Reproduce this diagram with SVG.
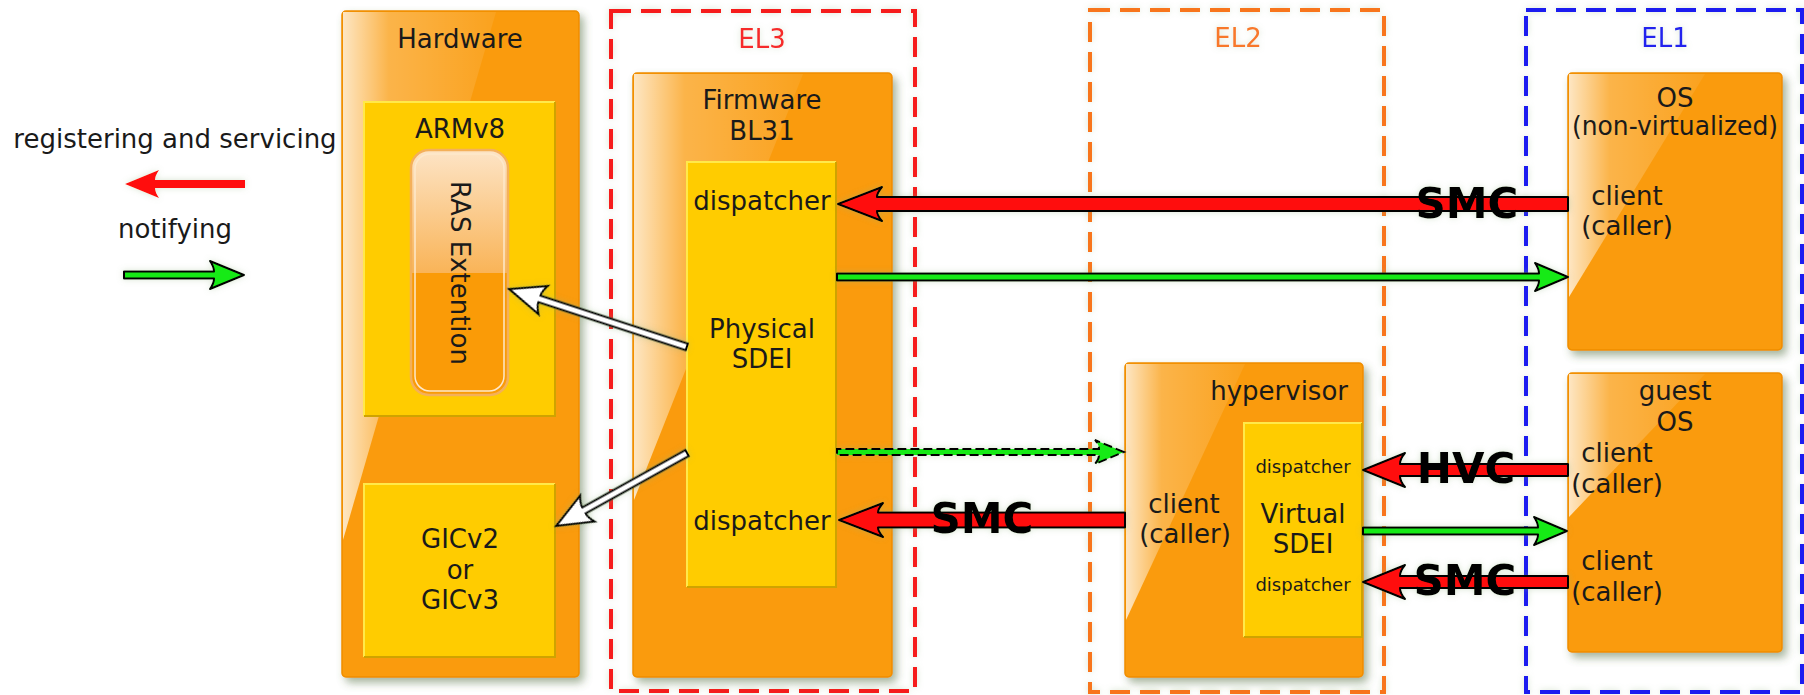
<svg xmlns="http://www.w3.org/2000/svg" width="1804" height="695" viewBox="0 0 1804 695">
<defs>
<style>
text { font-family: "DejaVu Sans", "Liberation Sans", sans-serif; font-size: 26px; fill: #1a1a1a; text-anchor: middle; }
.big { font-weight: bold; font-size: 42px; fill: #000; }
.small { font-size: 18px; }
.box { fill: #fa9b07; stroke: #ef8d00; stroke-width: 1.5; }
.ybox { fill: #ffcc00; }
.ylt { fill: none; stroke: #ffe94a; stroke-width: 2; }
.ydk { fill: none; stroke: #cfa300; stroke-width: 2; }
.glass { fill: url(#glass); }
.el { fill: none; stroke-width: 4; stroke-dasharray: 20 10; }
.red { fill: #ff0d0d; stroke: #000; stroke-width: 2; stroke-linejoin: round; }
.green { fill: #17ea17; stroke: #000; stroke-width: 2; stroke-linejoin: round; }
.hollow { fill: #fff; stroke: #000; stroke-width: 2; stroke-linejoin: miter; }
</style>
<linearGradient id="glass" x1="0" y1="0" x2="1" y2="0">
<stop offset="0" stop-color="#fff" stop-opacity="0.75"/>
<stop offset="0.3" stop-color="#fff" stop-opacity="0.25"/>
<stop offset="1" stop-color="#fff" stop-opacity="0.07"/>
</linearGradient>
<linearGradient id="ras" x1="0" y1="0" x2="0" y2="1">
<stop offset="0" stop-color="#fde4c6"/>
<stop offset="0.5" stop-color="#f9b458"/>
<stop offset="0.5" stop-color="#fa9b07"/>
<stop offset="1" stop-color="#fa9b07"/>
</linearGradient>
<filter id="sh" filterUnits="userSpaceOnUse" x="0" y="0" width="1804" height="695">
<feGaussianBlur in="SourceAlpha" stdDeviation="4"/>
<feOffset dx="4" dy="5" result="b"/>
<feFlood flood-color="#4d6b3a" flood-opacity="0.5"/>
<feComposite in2="b" operator="in"/>
<feMerge><feMergeNode/><feMergeNode in="SourceGraphic"/></feMerge>
</filter>
<filter id="gl" filterUnits="userSpaceOnUse" x="0" y="0" width="1804" height="695">
<feGaussianBlur in="SourceAlpha" stdDeviation="3" result="b"/>
<feFlood flood-color="#8fb27c" flood-opacity="0.35"/>
<feComposite in2="b" operator="in"/>
<feMerge><feMergeNode/><feMergeNode in="SourceGraphic"/></feMerge>
</filter>
</defs>

<rect width="1804" height="695" fill="#fff"/>

<g id="legend">
<text x="175" y="148">registering and servicing</text>
<path d="M125,184 L159,170 Q155,176 155,180 L245,180 L245,188 L155,188 Q155,192 159,198 Z" fill="#ff0d0d" filter="url(#gl)"/>
<text x="175" y="238">notifying</text>
<path class="green" d="M244,275 L210,261 Q214,267 214,271.5 L124,271.5 L124,278.5 L214,278.5 Q214,283 210,289 Z" filter="url(#gl)"/>
</g>

<g id="el3" filter="url(#gl)">
<rect class="el" x="611" y="11" width="304" height="680" stroke="#f61e1e"/>
<text x="762" y="48" style="fill:#f62a2a">EL3</text>
</g>
<g id="el2" filter="url(#gl)">
<rect class="el" x="1090" y="10" width="294" height="682" stroke="#f8741e"/>
<text x="1238" y="47" style="fill:#f8782a">EL2</text>
</g>
<g id="el1" filter="url(#gl)">
<rect class="el" x="1526" y="10" width="276" height="682" stroke="#1a1af0"/>
<text x="1665" y="47" style="fill:#2424ee">EL1</text>
</g>

<g id="hardware">
<rect class="box" x="342" y="11" width="237" height="666" rx="4" filter="url(#sh)"/>
<polygon class="glass" points="343,12 496,12 343,540"/>
<text x="460" y="48">Hardware</text>
</g>
<g id="armv8">
<rect class="ybox" x="364" y="102" width="191" height="314"/>
<path class="ylt" d="M364,416 L364,102 L555,102"/>
<path class="ydk" d="M555,102 L555,416 L364,416"/>
<text x="460" y="138">ARMv8</text>
</g>
<g id="ras">
<rect x="411" y="150" width="97" height="245" rx="18" fill="url(#ras)" stroke="#f4b05a" stroke-width="2.5"/>
<rect x="415" y="154" width="89" height="237" rx="15" fill="none" stroke="#fde9cc" stroke-width="1.5"/>
<text transform="translate(460,273) rotate(90)" y="9">RAS Extention</text>
</g>
<g id="gic">
<rect class="ybox" x="364" y="484" width="191" height="173"/>
<path class="ylt" d="M364,657 L364,484 L555,484"/>
<path class="ydk" d="M555,484 L555,657 L364,657"/>
<text x="460" y="548">GICv2</text>
<text x="460" y="579">or</text>
<text x="460" y="609">GICv3</text>
</g>

<g id="firmware">
<rect class="box" x="633" y="73" width="259" height="604" rx="4" filter="url(#sh)"/>
<polygon class="glass" points="634,74 803,74 634,500"/>
<text x="762" y="109">Firmware</text>
<text x="762" y="140">BL31</text>
</g>
<g id="physical-sdei">
<rect class="ybox" x="687" y="162" width="149" height="425"/>
<path class="ylt" d="M687,587 L687,162 L836,162"/>
<path class="ydk" d="M836,162 L836,587 L687,587"/>
<text x="762" y="210">dispatcher</text>
<text x="762" y="338">Physical</text>
<text x="762" y="368">SDEI</text>
<text x="762" y="530">dispatcher</text>
</g>

<g id="hypervisor">
<rect class="box" x="1125" y="363" width="238" height="314" rx="4" filter="url(#sh)"/>
<polygon class="glass" points="1126,364 1245,364 1126,620"/>
<text x="1348" y="400" style="text-anchor:end">hypervisor</text>
<text x="1184" y="513">client</text>
<text x="1185" y="543">(caller)</text>
</g>
<g id="virtual-sdei">
<rect class="ybox" x="1244" y="423" width="118" height="214"/>
<path class="ylt" d="M1244,637 L1244,423 L1362,423"/>
<path class="ydk" d="M1362,423 L1362,637 L1244,637"/>
<text class="small" x="1303" y="473">dispatcher</text>
<text x="1303" y="523">Virtual</text>
<text x="1303" y="553">SDEI</text>
<text class="small" x="1303" y="591">dispatcher</text>
</g>

<g id="os">
<rect class="box" x="1568" y="73" width="214" height="277" rx="4" filter="url(#sh)"/>
<polygon class="glass" points="1569,74 1705,74 1569,297"/>
<text x="1675" y="107">OS</text>
<text x="1675" y="135" textLength="206" lengthAdjust="spacingAndGlyphs">(non-virtualized)</text>
<text x="1627" y="205">client</text>
<text x="1627" y="235">(caller)</text>
</g>
<g id="guest-os">
<rect class="box" x="1568" y="373" width="214" height="279" rx="4" filter="url(#sh)"/>
<polygon class="glass" points="1569,374 1705,374 1569,517"/>
<text x="1675" y="400">guest</text>
<text x="1675" y="431">OS</text>
<text x="1617" y="462">client</text>
<text x="1617" y="493">(caller)</text>
<text x="1617" y="570">client</text>
<text x="1617" y="601">(caller)</text>
</g>

<g id="connectors" filter="url(#gl)">
<path class="red" d="M838,204 L882,187 Q877,193 877,197 L1568,197 L1568,211 L877,211 Q877,215 882,221 Z"/>
<path class="green" d="M1568,277 L1535,263 Q1539,269 1539,273.5 L837,273.5 L837,280.5 L1539,280.5 Q1539,285 1535,291 Z"/>
<path class="hollow" transform="translate(509,289) rotate(198.05)" d="M0,0 L-36,-15 Q-32,-8 -32,-3.5 L-187,-3.5 L-187,3.5 L-32,3.5 Q-32,8 -36,15 Z"/>
<path class="hollow" transform="translate(556,526) rotate(150.9)" d="M0,0 L-36,-15 Q-32,-8 -32,-3.5 L-150,-3.5 L-150,3.5 L-32,3.5 Q-32,8 -36,15 Z"/>
<path d="M1124,452 L1095,440 Q1099,445 1099,449 L837,449 L837,455 L1099,455 Q1099,459 1095,464 Z" fill="#17ea17" stroke="#000" stroke-width="2" stroke-dasharray="9 4"/>
<path class="red" d="M839,520 L883,503 Q878,509 878,512.5 L1125,512.5 L1125,527.5 L878,527.5 Q878,531 883,537 Z"/>
<path class="red" d="M1363,470 L1405,453 Q1400,459 1400,464 L1568,464 L1568,476 L1400,476 Q1400,481 1405,487 Z"/>
<path class="green" d="M1567,531 L1534,517 Q1538,523 1538,527.5 L1363,527.5 L1363,534.5 L1538,534.5 Q1538,539 1534,545 Z"/>
<path class="red" d="M1363,582 L1405,565 Q1400,571 1400,576 L1568,576 L1568,588 L1400,588 Q1400,593 1405,599 Z"/>
<text class="big" x="1467" y="218">SMC</text>
<text class="big" x="982" y="533">SMC</text>
<text class="big" x="1466" y="483">HVC</text>
<text class="big" x="1465" y="595">SMC</text>
</g>
</svg>
